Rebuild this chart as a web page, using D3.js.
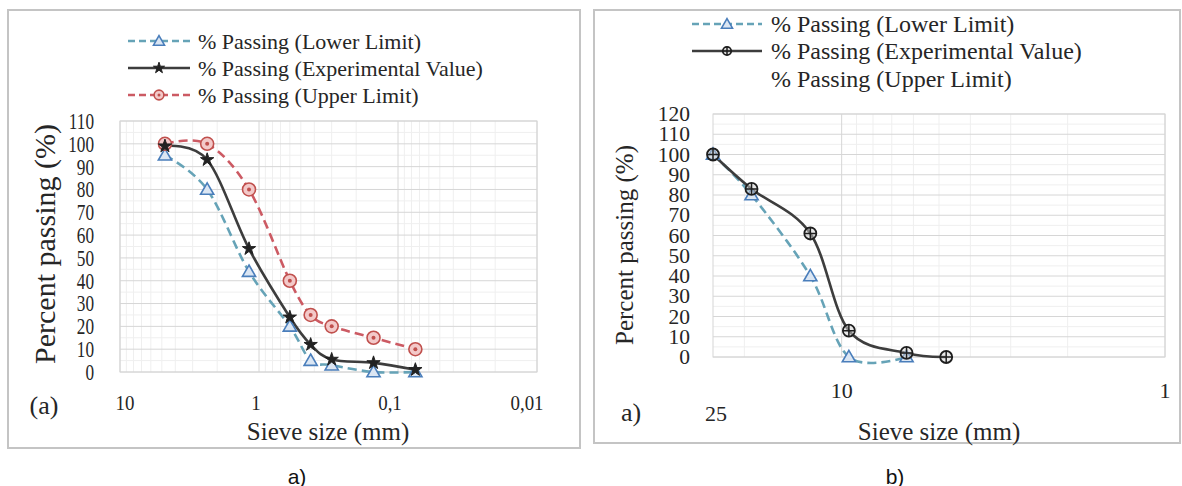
<!DOCTYPE html>
<html><head><meta charset="utf-8">
<script src="https://cdn.jsdelivr.net/npm/d3@7"></script>
<style>
body{margin:0;background:#fff}
svg{display:block}
text{font-family:"Liberation Serif","Times New Roman",serif;fill:#262626}
</style>
</head><body>
<svg id="c" width="1182" height="486"></svg>
<script>
// ---------- Panel (a) data ----------
const sievesA = [4.75, 2.36, 1.18, 0.6, 0.425, 0.3, 0.15, 0.075];
const lowerA  = [95, 80, 44, 20, 5, 3, 0, 0];
const expA    = [99, 93, 54, 24, 12, 5.5, 4, 1];
const upperA  = [100, 100, 80, 40, 25, 20, 15, 10];
const xTicksA = [10, 1, 0.1, 0.01];
const xTickLabelsA = ["10", "1", "0,1", "0,01"];
const yTicksA = [0,10,20,30,40,50,60,70,80,90,100,110];

// ---------- Panel (b) data ----------
const sievesB = [25, 19, 12.5, 9.5, 6.3, 4.75];
const lowerB  = [100, 80, 40, 0, 0];
const expB    = [100, 83, 61, 13, 2, 0];
const xTicksB = [10, 1];
const xTickLabelsB = ["10", "1"];
const xExtraLabelB = ["25"];
const yTicksB = [0,10,20,30,40,50,60,70,80,90,100,110,120];

const legendLabels = ["% Passing (Lower Limit)", "% Passing (Experimental Value)", "% Passing (Upper Limit)"];
const yTitle = "Percent passing (%)";
const xTitle = "Sieve size (mm)";

const C = {lower:"#66a3b7", lowerMk:"#4a7ebb", lowerFill:"#dbe6f3", exp:"#3d3d3d", upper:"#cc5a63", upperMk:"#c0504d", upperFill:"#f3c9c9", grid:"#d6d6d6", minor:"#efefef", box:"#c4c4c4"};

const svg = d3.select("#c");

function txt(g, x, y, s, size, opts={}) {
  const sx = opts.sx || 1, rot = opts.rot || 0;
  const t = g.append("g").attr("transform", `translate(${x},${y}) rotate(${rot}) scale(${sx},1)`)
    .append("text").text(s).attr("font-size", size)
    .attr("text-anchor", opts.anchor || "start").attr("dominant-baseline", "central");
  if (opts.family) t.style("font-family", opts.family);
  if (opts.fill) t.style("fill", opts.fill);
  return t;
}

function triangle(g, x, y, s=1) {
  g.append("path").attr("d", d3.symbol(d3.symbolTriangle, 75*s)()).attr("transform", `translate(${x},${y+1})`)
    .attr("fill", C.lowerFill).attr("stroke", C.lowerMk).attr("stroke-width", 1.6);
}
function circleMk(g, x, y, s=1) {
  g.append("circle").attr("cx", x).attr("cy", y).attr("r", 6.5*s).attr("fill", C.upperFill).attr("stroke", C.upperMk).attr("stroke-width", 1.6);
  g.append("circle").attr("cx", x).attr("cy", y).attr("r", 2*s).attr("fill", C.upperMk);
}
function starMk(g, x, y, s=1) {
  g.append("path").attr("d", d3.symbol(d3.symbolStar, 55*s)()).attr("transform", `translate(${x},${y})`)
    .attr("fill", "#222").attr("stroke", "#222").attr("stroke-width", 1);
}
function crossMk(g, x, y, s=1) {
  const r = 6*s;
  g.append("circle").attr("cx", x).attr("cy", y).attr("r", r).attr("fill", "#cfcfcf").attr("fill-opacity",0.5).attr("stroke", "#1e1e1e").attr("stroke-width", 1.8);
  g.append("path").attr("d", `M${x-r},${y}H${x+r}M${x},${y-r}V${y+r}`).attr("stroke", "#1e1e1e").attr("stroke-width", 1.5);
}

function grid(g, x, y, xDom, yMax) {
  const [x0, x1] = x.range(), [yb, yt] = y.range();
  const lo = Math.min(...xDom), hi = Math.max(...xDom);
  for (let e = Math.floor(Math.log10(lo)); e <= Math.ceil(Math.log10(hi)); e++) {
    for (let k = 2; k <= 9; k++) {
      const v = k * Math.pow(10, e);
      if (v > lo && v < hi) g.append("line").attr("x1", x(v)).attr("x2", x(v)).attr("y1", yt).attr("y2", yb).attr("stroke", C.minor);
    }
  }
  for (let v = 5; v < yMax; v += 10) g.append("line").attr("x1", x0).attr("x2", x1).attr("y1", y(v)).attr("y2", y(v)).attr("stroke", C.minor);
  for (let v = 0; v <= yMax; v += 10) g.append("line").attr("x1", x0).attr("x2", x1).attr("y1", y(v)).attr("y2", y(v)).attr("stroke", C.grid);
  for (let e = Math.ceil(Math.log10(lo)); e <= Math.floor(Math.log10(hi)); e++) {
    const v = Math.pow(10, e);
    g.append("line").attr("x1", x(v)).attr("x2", x(v)).attr("y1", yt).attr("y2", yb).attr("stroke", C.grid);
  }
  g.append("rect").attr("x", x0).attr("y", yt).attr("width", x1 - x0).attr("height", yb - yt).attr("fill", "none").attr("stroke", C.grid);
}

const curve = d3.curveCardinal.tension(0);

function series(g, x, y, xs, ys, color, dash, width) {
  const pts = ys.map((v, i) => [xs[i], v]);
  g.append("path").attr("d", d3.line().x(d => x(d[0])).y(d => y(d[1])).curve(curve)(pts))
    .attr("fill", "none").attr("stroke", color).attr("stroke-width", width)
    .attr("stroke-dasharray", dash || null);
  return pts;
}

// ================= Panel (a) =================
(function(){
  const g = svg.append("g");
  g.append("rect").attr("x", 8).attr("y", 10).attr("width", 572).attr("height", 438).attr("fill", "#fff").attr("stroke", C.box).attr("stroke-width", 2);
  const x = d3.scaleLog().domain([10, 0.01]).range([120, 537]);
  const y = d3.scaleLinear().domain([0, 110]).range([372, 121]);
  grid(g, x, y, [10, 0.01], 110);

  const pl = series(g, x, y, sievesA, lowerA, C.lower, "9,5", 2.6);
  const pu = series(g, x, y, sievesA, upperA, C.upper, "9,5", 2.6);
  const pe = series(g, x, y, sievesA, expA, C.exp, null, 2.6);
  pl.forEach(d => triangle(g, x(d[0]), y(d[1])));
  pu.forEach(d => circleMk(g, x(d[0]), y(d[1])));
  pe.forEach(d => starMk(g, x(d[0]), y(d[1])));

  const ya = g.append("g").attr("transform", "translate(93,0)")
    .call(d3.axisLeft(y).tickValues(yTicksA).tickSize(0).tickPadding(0));
  ya.select(".domain").remove();
  ya.selectAll("text").remove();
  yTicksA.forEach(v => txt(g, 94, y(v), String(v), 23, {sx: 0.75, anchor: "end"}));

  const xa = g.append("g").attr("transform", "translate(0,372)")
    .call(d3.axisBottom(x).tickValues(xTicksA).tickSize(0));
  xa.select(".domain").remove();
  xa.selectAll("text").remove();
  const offA = [5, -3, -8, -10];
  xTicksA.forEach((v, i) => txt(g, x(v) + offA[i], 403, xTickLabelsA[i], 21, {anchor: "middle", sx: 0.9}));

  txt(g, 44, 244, yTitle, 30, {rot: -90, anchor: "middle"});
  txt(g, 328, 431, xTitle, 25, {anchor: "middle"});
  txt(g, 44, 405, "(a)", 26, {anchor: "middle"});

  const L = [41, 68, 95];
  g.append("line").attr("x1", 128).attr("x2", 190).attr("y1", L[0]).attr("y2", L[0]).attr("stroke", C.lower).attr("stroke-width", 2.6).attr("stroke-dasharray", "7,4");
  triangle(g, 159, L[0], 0.7);
  g.append("line").attr("x1", 128).attr("x2", 190).attr("y1", L[1]).attr("y2", L[1]).attr("stroke", C.exp).attr("stroke-width", 2.6);
  starMk(g, 159, L[1], 0.7);
  g.append("line").attr("x1", 128).attr("x2", 190).attr("y1", L[2]).attr("y2", L[2]).attr("stroke", C.upper).attr("stroke-width", 2.6).attr("stroke-dasharray", "7,4");
  circleMk(g, 159, L[2], 0.75);
  legendLabels.forEach((s, i) => txt(g, 198, L[i], s, 22));
})();

// ================= Panel (b) =================
(function(){
  const g = svg.append("g");
  g.append("rect").attr("x", 594).attr("y", 10).attr("width", 586).attr("height", 433).attr("fill", "#fff").attr("stroke", C.box).attr("stroke-width", 2);
  const x = d3.scaleLog().domain([25, 1]).range([713, 1165]);
  const y = d3.scaleLinear().domain([0, 120]).range([357, 114]);
  grid(g, x, y, [25, 1], 120);

  const pl = series(g, x, y, sievesB, lowerB, C.lower, "9,5", 2.6);
  const pe = series(g, x, y, sievesB, expB, C.exp, null, 2.6);
  pl.forEach(d => triangle(g, x(d[0]), y(d[1])));
  pe.forEach(d => crossMk(g, x(d[0]), y(d[1])));

  const ya = g.append("g").attr("transform", "translate(690,0)")
    .call(d3.axisLeft(y).tickValues(yTicksB).tickSize(0));
  ya.select(".domain").remove();
  ya.selectAll("text").remove();
  yTicksB.forEach(v => txt(g, 690, y(v), String(v), 21.5, {anchor: "end"}));

  const xa = g.append("g").attr("transform", "translate(0,357)")
    .call(d3.axisBottom(x).tickValues(xTicksB).tickSize(0));
  xa.select(".domain").remove();
  xa.selectAll("text").remove();
  xTicksB.forEach((v, i) => txt(g, x(v), 390, xTickLabelsB[i], 22, {anchor: "middle"}));
  txt(g, x(25) + 3, 413, xExtraLabelB[0], 22, {anchor: "middle"});

  txt(g, 624, 245, yTitle, 25, {rot: -90, anchor: "middle"});
  txt(g, 939, 431, xTitle, 25, {anchor: "middle"});
  txt(g, 631, 412, "a)", 26, {anchor: "middle"});

  const L = [24, 51, 79];
  g.append("line").attr("x1", 692).attr("x2", 762).attr("y1", L[0]).attr("y2", L[0]).attr("stroke", C.lower).attr("stroke-width", 2.6).attr("stroke-dasharray", "7,4");
  triangle(g, 727, L[0], 0.7);
  g.append("line").attr("x1", 692).attr("x2", 762).attr("y1", L[1]).attr("y2", L[1]).attr("stroke", C.exp).attr("stroke-width", 2.6);
  crossMk(g, 727, L[1], 0.7);
  legendLabels.forEach((s, i) => txt(g, 771, L[i], s, 24));
})();

txt(svg, 297, 476, "a)", 21, {anchor: "middle", family: "'Liberation Sans', Arial, sans-serif", fill: "#111"});
txt(svg, 895, 476, "b)", 21, {anchor: "middle", family: "'Liberation Sans', Arial, sans-serif", fill: "#111"});
</script>
</body></html>
